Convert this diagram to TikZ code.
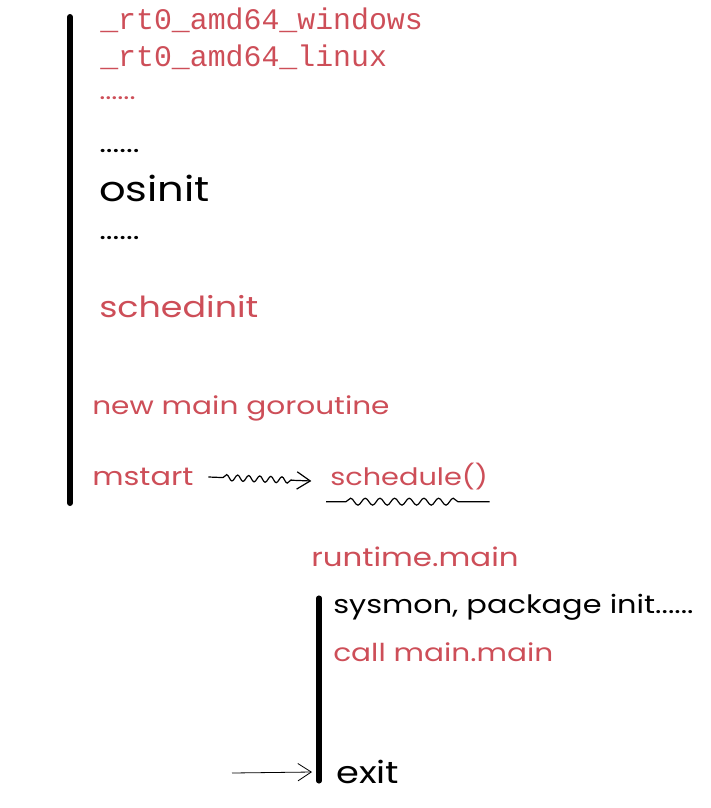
\documentclass[tikz,border=0pt]{standalone}
\usepackage{fontspec}
\setmainfont{Poppins}[FakeStretch=1.2]
\newfontfamily\codefont{Liberation Mono}
\usetikzlibrary{arrows.meta,decorations.pathmorphing}
\definecolor{gored}{RGB}{205,78,88}
\tikzset{
	lbl/.style={anchor=west, inner sep=0pt, font=\fontsize{#1}{#1}\selectfont},
	lbl/.default=18.5,
	code/.style={anchor=west, inner sep=0pt, font=\codefont\fontsize{22.4}{26}\selectfont},
	redtxt/.style={text=gored},
	bar/.style={line width=4.5pt, line cap=round},
	wave/.style={decorate, decoration={snake, segment length=8.3, amplitude=2.3, pre length=11, post length=15}},
	tip/.style={-{Straight Barb[length=10pt, width=13pt]}}
}
\begin{document}
\begin{tikzpicture}[x=0.75pt, y=-0.75pt]
			%%%%% START %%%%%
			\useasboundingbox (0, 0) rectangle (711, 808);
			
			\coordinate (bartop) at (70, 17);
			\coordinate (barbot) at (70, 503);
			\draw[bar] (bartop) -- (barbot);
			
			\node[code, redtxt] (win) at (100, 20) {\_rt0\_amd64\_windows};
			\node[code, redtxt] (lnx) at (100, 57) {\_rt0\_amd64\_linux};
			\node[lbl=18, redtxt] (dotsa) at (99, 98) {......};
			\node[lbl=20] (dotsb) at (99, 151) {......};
			\node[lbl=26] (osinit) at (99, 188) {osinit};
			\node[lbl=20] (dotsc) at (99, 238) {......};
			\node[lbl=21.8, redtxt] (schedinit) at (99, 307) {schedinit};
			\node[lbl, redtxt] (newg) at (92, 408) {new main goroutine};
			\node[lbl=19, redtxt] (mstart) at (92, 477) {mstart};
			\node[lbl=18, redtxt] (sched) at (330, 477) {schedule()};
			
			\draw[wave, tip, line width=0.9pt] ([xshift=11]mstart.east) -- ([xshift=-14, yshift=-3]sched.west);
			\draw[wave, line width=0.9pt, decoration={segment length=11, amplitude=2.6, pre length=15, post length=20}] ([xshift=-3, yshift=-18.5]sched.west) -- ([xshift=1, yshift=-18.5]sched.east);
			
			\node[lbl=19.3, redtxt] (rtmain) at (311, 557) {runtime.main};
			
			\coordinate (subtop) at (319, 598);
			\coordinate (subbot) at (319, 781);
			\draw[bar, line width=3.8pt] (subtop) -- (subbot);
			
			\node[lbl=19] (sysmon) at (333, 607) {sysmon, package init......};
			\node[lbl, redtxt] (callmain) at (333, 652) {call main.main};
			\node[lbl=23] (exit) at (336, 772) {exit};
			
			\coordinate (exitfrom) at (232, 773);
			\draw[tip, line width=0.6pt] (exitfrom) -- ([xshift=-18]exit.west);
			%%%%% END %%%%%
\end{tikzpicture}
\end{document}
